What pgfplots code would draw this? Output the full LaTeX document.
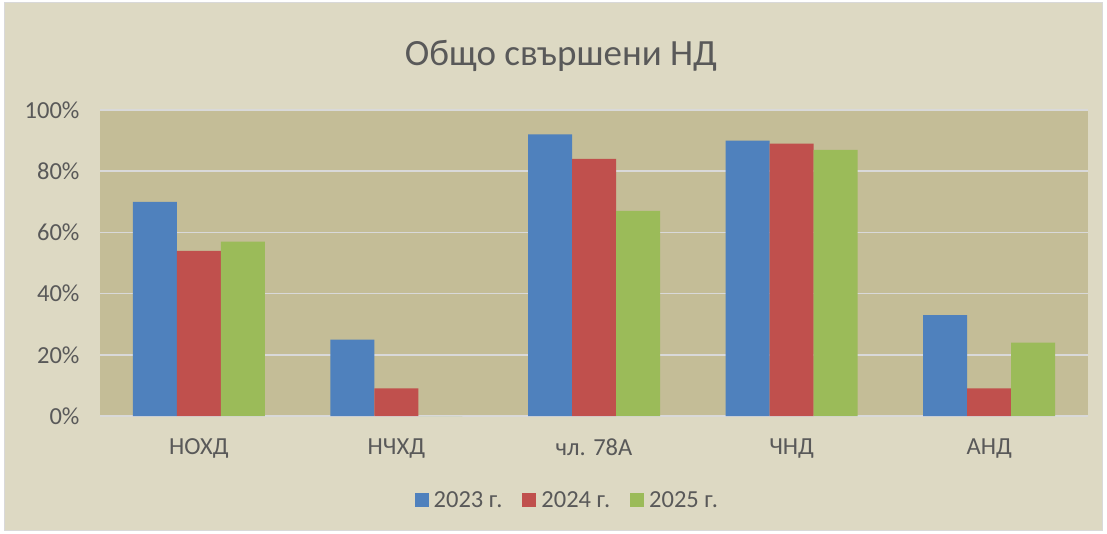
\documentclass[border=0pt]{standalone}
\usepackage{pgfplots}
\pgfplotsset{compat=1.18}
\usepackage{fontspec}
\setmainfont{Carlito}
\definecolor{bgout}{HTML}{DDD9C3}
\definecolor{bgplot}{HTML}{C4BD97}
\definecolor{cblue}{HTML}{4F81BD}
\definecolor{cred}{HTML}{C0504D}
\definecolor{cgreen}{HTML}{9BBB59}
\definecolor{txt}{HTML}{595959}
\definecolor{gridc}{HTML}{D9D9D9}
\begin{document}
\begin{tikzpicture}[x=1pt,y=1pt]
\fill[white] (0,0) rectangle (1107,533);
\fill[bgout, draw=gridc, line width=1pt] (4,3) rectangle (1102,530);
\node[text=txt, font=\fontsize{37}{44}\selectfont] at (561,477) {Общо свършени НД};
\begin{axis}[
  at={(100pt,117pt)}, anchor=south west,
  scale only axis, width=988pt, height=306pt,
  xmin=-0.5, xmax=4.5, ymin=0, ymax=100,
  ybar=0pt, bar width=44pt,
  axis background/.style={fill=bgplot},
  axis x line*=bottom, axis y line*=left,
  x axis line style={draw=gridc, line width=1.5pt, -},
  y axis line style={draw=none},
  major tick length=0pt,
  xtick={0,1,2,3,4},
  xticklabels={НОХД,НЧХД,чл. 78А,ЧНД,АНД},
  ytick={0,20,...,100},
  yticklabel={\pgfmathprintnumber{\tick}\%},
  /pgf/number format/assume math mode=true,
  ymajorgrids, grid style={draw=gridc, line width=1.5pt},
  tick label style={font=\fontsize{24.5}{29}\selectfont, text=txt},
  xticklabel style={yshift=-19pt},
  yticklabel style={xshift=-17pt},
  legend style={at={(0.473,-0.275)}, anchor=center, draw=none, fill=none,
    font=\fontsize{24.5}{29}\selectfont, text=txt, legend columns=3,
    /tikz/every odd column/.append style={column sep=3pt},
    /tikz/every even column/.append style={column sep=18pt}},
  legend image code/.code={\fill[#1] (0pt,-7pt) rectangle (14pt,7pt);},
]
\addplot[fill=cblue, draw=none] coordinates {(0,70) (1,25) (2,92) (3,90) (4,33)};
\addplot[fill=cred, draw=none] coordinates {(0,54) (1,9) (2,84) (3,89) (4,9)};
\addplot[fill=cgreen, draw=none] coordinates {(0,57) (1,0) (2,67) (3,87) (4,24)};
\legend{2023 г.,2024 г.,2025 г.}
\end{axis}
\end{tikzpicture}
\end{document}
